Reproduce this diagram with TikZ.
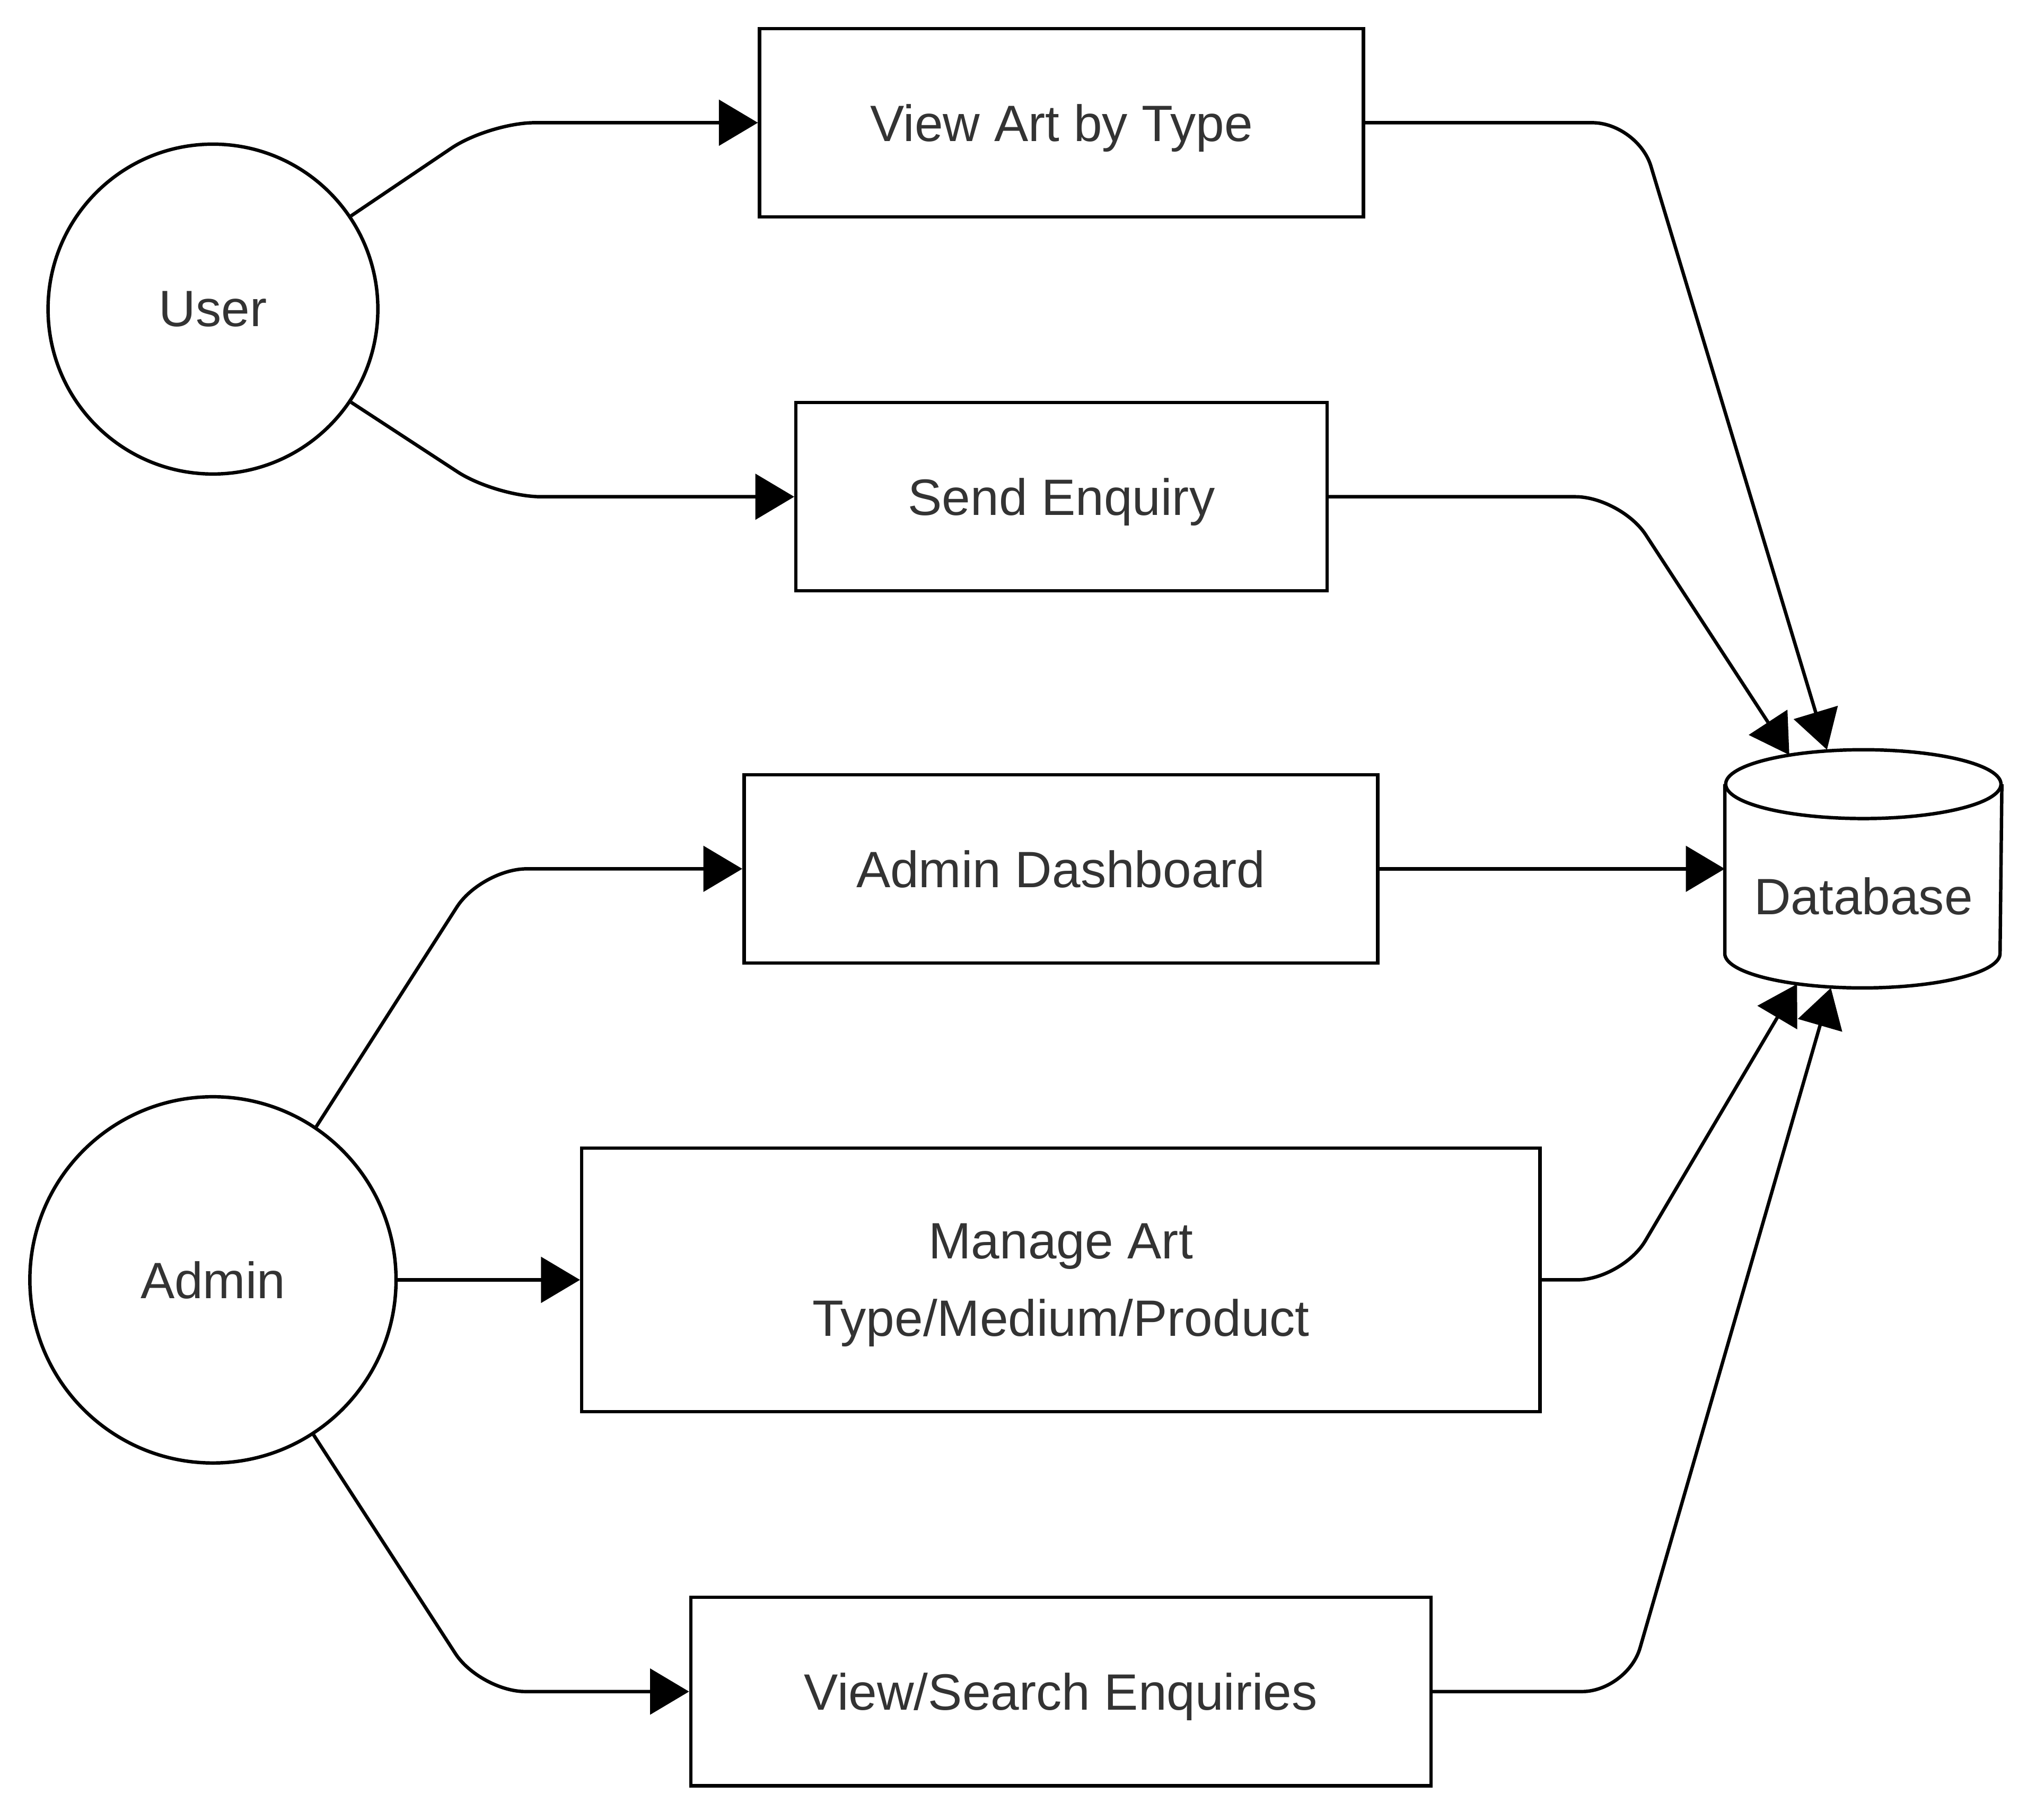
\documentclass[tikz,border=0pt]{standalone}
\usepackage{fontspec}
\setmainfont{Liberation Sans}
\usetikzlibrary{arrows.meta,positioning}
\definecolor{labelgrey}{HTML}{333333}

\begin{document}
\begin{tikzpicture}[
	every node/.style={font=\fontsize{11.2pt}{17pt}\selectfont, text=labelgrey, text depth=0pt},
	actor/.style={circle, draw=black, line width=0.75pt, inner sep=0pt},
	process/.style={rectangle, draw=black, line width=0.75pt, minimum height=1.45cm, align=center},
	store/.style={inner sep=0pt, minimum width=2.12cm, minimum height=1.82cm},
	flow/.style={line width=0.75pt, rounded corners=0.35cm, -{Triangle[length=0.3cm,width=0.35cm]}}
]
	\useasboundingbox (0,0) rectangle (15.68,-14.01);

	\node[actor, minimum size=2.54cm] (user) at (1.64,-2.38) {User};
	\node[actor, minimum size=2.82cm] (admin) at (1.64,-9.855) {Admin};

	\node[process, minimum width=4.65cm] (viewart) at (8.175,-0.945) {View Art by Type};
	\node[process, minimum width=4.09cm] (enquiry) at (8.175,-3.825) {Send Enquiry};
	\node[process, minimum width=4.88cm] (dashboard) at (8.17,-6.69) {Admin Dashboard};
	\node[process, minimum width=7.38cm, minimum height=2.03cm] (manage) at (8.17,-9.855) {Manage Art\\Type/Medium/Product};
	\node[process, minimum width=5.70cm] (search) at (8.17,-13.025) {View/Search Enquiries};

	% database cylinder
	\node[store] (database) at (14.35,-6.69) {};
	\draw[line width=0.75pt] ([yshift=-0.265cm]database.north) ellipse [x radius=1.06cm, y radius=0.265cm];
	\draw[line width=0.75pt] ([yshift=-0.265cm]database.north west) -- ([yshift=0.265cm]database.south west)
		arc[start angle=180, end angle=360, x radius=1.06cm, y radius=0.265cm]
		-- ([yshift=-0.265cm]database.north east);
	\node (dblabel) at ([yshift=-0.21cm]database.center) {Database};

	\draw[flow] (user.34) -- ([xshift=-2.07cm]viewart.west) -- (viewart.west);
	\draw[flow] (user.-34) -- ([xshift=-2.30cm]enquiry.west) -- (enquiry.west);
	\draw[flow] (admin.56) -- ([xshift=-2.01cm]dashboard.west) -- (dashboard.west);
	\draw[flow] (admin.east) -- (manage.west);
	\draw[flow] (admin.-57) -- ([xshift=-1.61cm]search.west) -- (search.west);

	\draw[flow] (viewart.east) -- ([xshift=2.10cm]viewart.east) -- ([xshift=-0.28cm]database.north);
	\draw[flow] (enquiry.east) -- ([xshift=2.25cm]enquiry.east) -- ([xshift=-0.57cm,yshift=-0.04cm]database.north);
	\draw[flow] (dashboard.east) -- (database.west);
	\draw[flow] (manage.east) -- ([xshift=0.62cm]manage.east) -- ([xshift=-0.51cm,yshift=0.03cm]database.south);
	\draw[flow] (search.east) -- ([xshift=1.50cm]search.east) -- ([xshift=-0.25cm]database.south);
\end{tikzpicture}
\end{document}
